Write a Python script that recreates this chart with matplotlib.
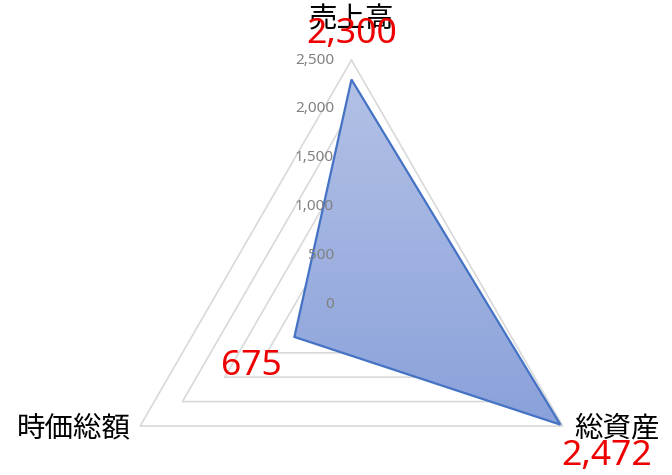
import numpy as np
import matplotlib
matplotlib.use("Agg")
import matplotlib.pyplot as plt
from matplotlib.patches import Polygon

plt.rcParams['font.family'] = ['Noto Sans CJK JP', 'DejaVu Sans']

categories = ['売上高', '総資産', '時価総額']
values = [2300, 2472, 675]
ticks = [0, 500, 1000, 1500, 2000, 2500]
tick_labels = ['0', '500', '1,000', '1,500', '2,000', '2,500']
value_labels = ['2,300', '2,472', '675']

# 上・右下・左下の3方向
angles = np.deg2rad([90, -30, 210])

def to_xy(r):
    r = np.asarray(r, dtype=float)
    return r * np.cos(angles), r * np.sin(angles)

XLIM = (-3601, 3284)
YLIM = (-1752, 3115)

fig = plt.figure(figsize=(6.72, 4.75), dpi=100)
ax = fig.add_axes([0, 0, 1, 1])
ax.axis('off')

# グリッド(三角形)
for t in ticks[1:]:
    gx, gy = to_xy([t] * 3)
    ax.plot(np.append(gx, gx[0]), np.append(gy, gy[0]), color='#d9d9d9', lw=1.2, zorder=1)

# データの多角形 + グラデーション(上が明るい)
px, py = to_xy(values)
poly = Polygon(np.column_stack([px, py]), closed=True, facecolor='none',
               edgecolor='#4472c4', lw=1.6, zorder=4)
ax.add_patch(poly)
grad = np.linspace(0, 1, 256).reshape(-1, 1)
cmap = matplotlib.colors.LinearSegmentedColormap.from_list('g', ['#b3c1e6', '#8aa1da'])
img = ax.imshow(grad, cmap=cmap, extent=[px.min(), px.max(), py.min(), py.max()],
                origin='upper', aspect='auto', zorder=3)
clip = Polygon(np.column_stack([px, py]), closed=True, transform=ax.transData)
img.set_clip_path(clip)
ax.set_xlim(*XLIM)
ax.set_ylim(*YLIM)
ax.set_aspect('equal')

# 目盛ラベル
for t, lab in zip(ticks, tick_labels):
    ax.annotate(lab, (0, t), xytext=(-12.5, 0), textcoords='offset points',
                ha='right', va='center', fontsize=11, color='#808080',
                family=['Noto Sans', 'DejaVu Sans'], zorder=6)

# 項目名
cx, cy = to_xy([2500] * 3)
ax.annotate(categories[0], (cx[0], cy[0]), xytext=(0, 29), textcoords='offset points',
            ha='center', va='center', fontsize=20.5, color='#000000', zorder=6)
ax.annotate(categories[1], (cx[1], cy[1]), xytext=(8.5, -1.5), textcoords='offset points',
            ha='left', va='center', fontsize=20.5, color='#000000', zorder=6)
ax.annotate(categories[2], (cx[2], cy[2]), xytext=(-7, -2), textcoords='offset points',
            ha='right', va='center', fontsize=20.5, color='#000000', zorder=6)

# データラベル
offsets = [(0, 33), (33, -22.5), (-31, -21)]
for x, y, lab, off in zip(px, py, value_labels, offsets):
    ax.annotate(lab, (x, y), xytext=off, textcoords='offset points',
                ha='center', va='center', fontsize=25.5, color='#ee0000',
                family=['Noto Sans', 'DejaVu Sans'], zorder=7)

fig.savefig('out.png', dpi=100)
